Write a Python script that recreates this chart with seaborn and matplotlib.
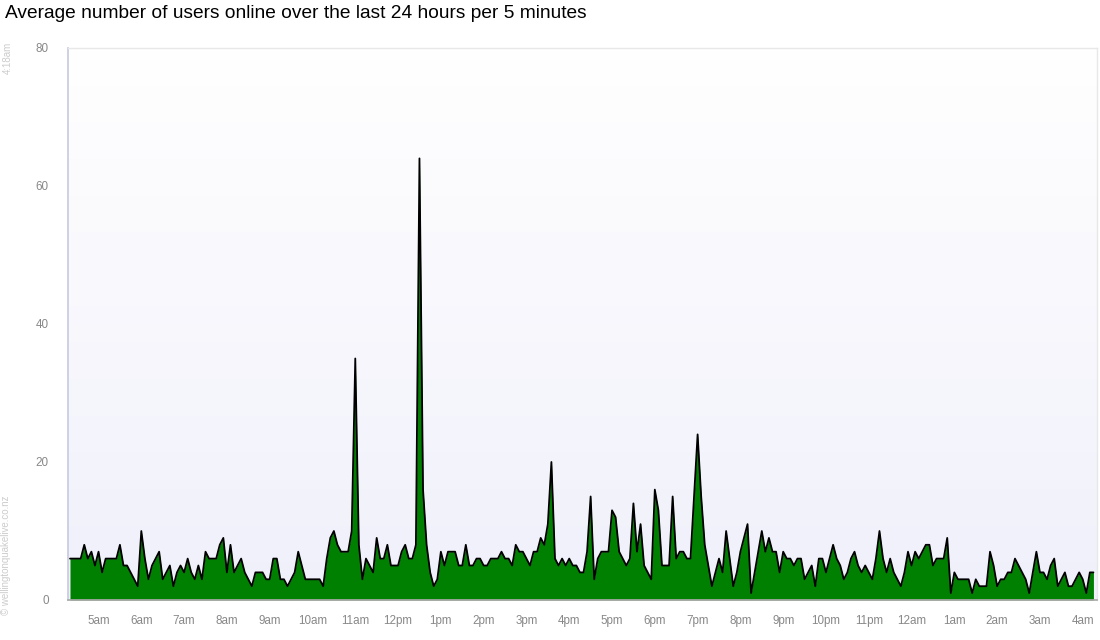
import numpy as np
import pandas as pd
import matplotlib
matplotlib.use("Agg")
import matplotlib.pyplot as plt
import seaborn as sns

# ---- data (average users online, one value per 5 minutes, starting 4:20am) ----
users_a = [6, 6, 6, 6, 8, 6, 7, 5, 7, 4,
           6, 6, 6, 6, 8, 5, 5, 4, 3, 2,
           10, 6, 3, 5, 6, 7, 3, 4, 5, 2,
           4, 5, 4, 6, 4, 3, 5, 3, 7, 6,
           6, 6, 8, 9, 4, 8, 4, 5, 6, 4,
           3, 2, 4, 4, 4, 3, 3, 6, 6, 3,
           3, 2, 3, 4, 7, 5, 3, 3, 3, 3,
           3, 2, 6, 9, 10, 8, 7, 7, 7, 10,
           35, 8, 3, 6, 5, 4, 9, 6, 6, 8,
           5, 5, 5, 7, 8, 6, 6, 8, 64, 16]
users_b = [8, 4, 2, 3, 7, 5, 7, 7, 7, 5,
           5, 8, 5, 5, 6, 6, 5, 5, 6, 6,
           6, 7, 6, 6, 5, 8, 7, 7, 6, 5,
           7, 7, 9, 8, 11, 20, 6, 5, 6, 5,
           6, 5, 5, 4, 4, 7, 15, 3, 6, 7,
           7, 7, 13, 12, 7, 6, 5, 6, 14, 7,
           11, 5, 4, 3, 16, 13, 5, 5, 5, 15,
           6, 7, 7, 6, 6, 15, 24, 15, 8, 5,
           2, 4, 6, 4, 10, 6, 2, 4, 7, 9,
           11, 1, 4, 7, 10, 7, 9, 7, 7, 4]
users_c = [7, 6, 6, 5, 6, 6, 3, 4, 5, 2,
           6, 6, 4, 6, 8, 6, 5, 3, 4, 6,
           7, 5, 4, 5, 4, 3, 6, 10, 6, 4,
           6, 4, 3, 2, 4, 7, 5, 7, 6, 7,
           8, 8, 5, 6, 6, 6, 9, 1, 4, 3,
           3, 3, 3, 1, 3, 2, 2, 2, 7, 5,
           2, 3, 3, 4, 4, 6, 5, 4, 3, 1,
           4, 7, 4, 4, 3, 5, 6, 2, 3, 4,
           2, 2, 3, 4, 3, 1, 4, 4]
users = users_a + users_b + users_c

hour_labels = ["5am", "6am", "7am", "8am", "9am", "10am", "11am", "12pm",
               "1pm", "2pm", "3pm", "4pm", "5pm", "6pm", "7pm", "8pm",
               "9pm", "10pm", "11pm", "12am", "1am", "2am", "3am", "4am"]
y_ticks = [0, 20, 40, 60, 80]

title = "Average number of users online over the last 24 hours per 5 minutes"
stamp = "4:18am"
credit = "\u00a9 wellingtonquakelive.co.nz"

df = pd.DataFrame({"slot": np.arange(len(users)), "users": users})

# ---- figure ----
sns.set_theme(style="white")
plt.rcParams["font.family"] = ["Liberation Sans", "DejaVu Sans"]

fig = plt.figure(figsize=(11, 6.4), dpi=100)
ax = fig.add_axes([68 / 1100, 40 / 640, 1029 / 1100, 552 / 640])

# gradient background
grad = np.linspace(0, 1, 256).reshape(-1, 1)
top_c = np.array([1.0, 1.0, 1.0])
bot_c = np.array([240, 240, 251]) / 255
img = top_c * (1 - grad[..., None]) + bot_c * grad[..., None]
ax.imshow(img, extent=(-0.56, 288.0, 0, 80), aspect="auto", origin="upper", zorder=0)

ax.fill_between(df["slot"], 0, df["users"], color="#008000", zorder=2, linewidth=0)
sns.lineplot(data=df, x="slot", y="users", ax=ax, color="black", linewidth=1.3, zorder=3)

ax.set_xlim(-0.56, 288.0)
ax.set_ylim(0, 80)
hour_pos = [8 + 12 * k for k in range(len(hour_labels))]
ax.set_xticks(hour_pos)
ax.set_xticklabels(hour_labels)
ax.set_yticks(y_ticks)
ax.set_yticklabels([str(v) for v in y_ticks])
ax.set_xlabel("")
ax.set_ylabel("")

ax.tick_params(axis="x", colors="#e2e2e2", length=10, width=1, direction="out",
               labelcolor="#888888", labelsize=8.4, pad=1)
ax.tick_params(axis="y", length=0, labelcolor="#888888", labelsize=8.4, pad=14)

for side in ["top", "right"]:
    ax.spines[side].set_color("#e8e8e8")
    ax.spines[side].set_linewidth(1)
ax.spines["left"].set_color("#c8cce0")
ax.spines["bottom"].set_color("#aaaaaa")
for s in ax.spines.values():
    s.set_zorder(5)

fig.text(5 / 1100, 1 - 13 / 640, title, fontsize=13.8, color="black",
         ha="left", va="center")
fig.text(8 / 1100, 1 - 58 / 640, stamp, fontsize=7, color="#cccccc",
         rotation=90, ha="center", va="center")
fig.text(6 / 1100, 1 - 555 / 640, credit, fontsize=7, color="#cccccc",
         rotation=90, ha="center", va="center")

fig.savefig("out.png", dpi=100)
